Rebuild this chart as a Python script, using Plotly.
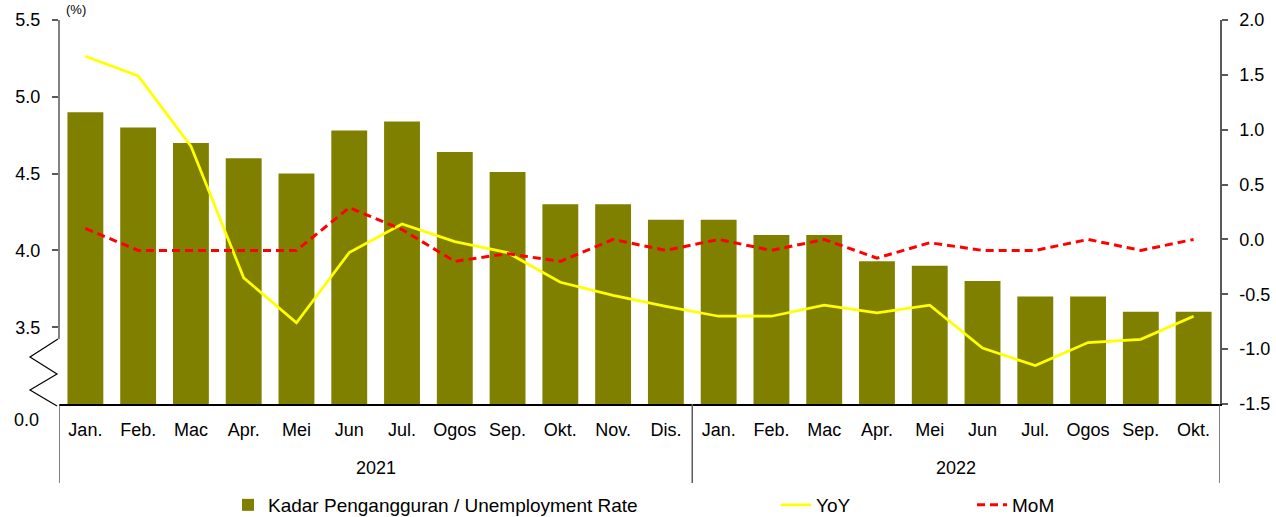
import plotly.graph_objects as go

# data
months = ['Jan.', 'Feb.', 'Mac', 'Apr.', 'Mei', 'Jun', 'Jul.', 'Ogos', 'Sep.', 'Okt.', 'Nov.', 'Dis.',
          'Jan.', 'Feb.', 'Mac', 'Apr.', 'Mei', 'Jun', 'Jul.', 'Ogos', 'Sep.', 'Okt.']
years = ['2021', '2022']
year_len = [12, 10]

unemployment = [4.9, 4.8, 4.7, 4.6, 4.5, 4.78, 4.84, 4.64, 4.51, 4.3, 4.3, 4.2,
                4.2, 4.1, 4.1, 3.93, 3.9, 3.8, 3.7, 3.7, 3.6, 3.6]
yoy = [1.67, 1.49, 0.85, -0.35, -0.76, -0.12, 0.14, -0.02, -0.12, -0.39, -0.51, -0.61,
       -0.70, -0.70, -0.60, -0.67, -0.60, -0.99, -1.15, -0.94, -0.91, -0.70]
mom = [0.10, -0.10, -0.10, -0.10, -0.10, 0.29, 0.09, -0.20, -0.13, -0.20, 0.0, -0.10,
       0.0, -0.10, 0.0, -0.17, -0.03, -0.10, -0.10, 0.0, -0.10, 0.0]

left_ticks = [3.5, 4.0, 4.5, 5.0, 5.5]
right_ticks = [-1.5, -1.0, -0.5, 0.0, 0.5, 1.0, 1.5, 2.0]
right_labels = ['-1.5', '-1.0', '-0.5', '0.0', '0.5', '1.0', '1.5', '2.0']

W, H = 1276, 517
L, R, T, B = 59, 56, 20, 113
FONT = 'Liberation Sans, Arial, sans-serif'
AXIS_GREY = '#595959'

def px(x):
    return (x - L) / (W - L - R)

def py(y):
    return (H - B - y) / (H - T - B)

x = list(range(len(months)))

fig = go.Figure()
fig.add_trace(go.Bar(
    x=x, y=unemployment,
    marker=dict(color='#808000', line=dict(width=0)),
    width=0.68,
    name='Kadar Pengangguran / Unemployment Rate',
    legend='legend', showlegend=True
))
fig.add_trace(go.Scatter(
    x=x, y=yoy, yaxis='y2', mode='lines',
    line=dict(color='#FFFF00', width=2.75),
    name='YoY', legend='legend2', showlegend=True
))
fig.add_trace(go.Scatter(
    x=x, y=mom, yaxis='y2', mode='lines',
    line=dict(color='#FF0000', width=3, dash='8px,5px'),
    name='MoM', legend='legend3', showlegend=True
))

shapes = []
# left axis line, stopping at the break
shapes.append(dict(type='line', xref='paper', yref='paper', x0=0, x1=0, y0=1, y1=py(339),
                   line=dict(color=AXIS_GREY, width=1.5)))
# zigzag axis break
pts = [(58, 339), (30, 357), (57, 374), (30, 390), (57, 406)]
path = 'M ' + ' L '.join(f'{px(a):.5f},{py(b):.5f}' for a, b in pts)
shapes.append(dict(type='path', xref='paper', yref='paper', path=path,
                   line=dict(color='black', width=1.2)))
# category group separators
edges = [-0.5]
for n in year_len:
    edges.append(edges[-1] + n)
for e in edges:
    shapes.append(dict(type='line', xref='x', yref='paper', x0=e, x1=e, y0=0, y1=py(483),
                       line=dict(color=AXIS_GREY, width=1.5)))

annotations = []
start = 0
for yr, n in zip(years, year_len):
    annotations.append(dict(x=start + (n - 1) / 2, y=py(468), xref='x', yref='paper',
                            text=yr, showarrow=False, font=dict(size=18, color='black'),
                            yanchor='middle'))
    start += n
annotations.append(dict(x=px(41), y=py(420), xref='paper', yref='paper', text='0.0',
                        showarrow=False, xanchor='right', yanchor='middle',
                        font=dict(size=18, color='black')))
annotations.append(dict(x=px(64), y=py(9), xref='paper', yref='paper', text='(%)',
                        showarrow=False, xanchor='left', yanchor='middle',
                        font=dict(size=13, color='black')))

leg = dict(orientation='h', yanchor='middle', y=py(505), xanchor='left',
           bgcolor='rgba(0,0,0,0)', font=dict(size=19, color='black', family=FONT))

fig.update_layout(
    width=W, height=H,
    margin=dict(l=L, r=R, t=T, b=B, autoexpand=False),
    paper_bgcolor='white', plot_bgcolor='white',
    font=dict(family=FONT, size=18, color='black'),
    showlegend=True,
    shapes=shapes,
    annotations=annotations,
    legend=dict(leg, x=px(228)),
    legend2=dict(leg, x=px(776)),
    legend3=dict(leg, x=px(972)),
    xaxis=dict(
        range=[-0.5, len(months) - 0.5],
        tickmode='array', tickvals=x, ticktext=months,
        showline=True, linecolor='black', linewidth=1.5,
        ticks='outside', ticklen=9, tickcolor='rgba(0,0,0,0)',
        showgrid=False, zeroline=False,
        tickfont=dict(size=18),
    ),
    yaxis=dict(
        range=[3.0, 5.5],
        tickvals=left_ticks, tickformat='.1f',
        ticks='outside', ticklen=6, tickcolor=AXIS_GREY, tickwidth=1.5,
        ticklabelstandoff=8,
        showline=False, showgrid=False, zeroline=False,
        tickfont=dict(size=18),
    ),
    yaxis2=dict(
        range=[-1.5, 2.0],
        tickmode='array', tickvals=right_ticks, ticktext=right_labels,
        overlaying='y', side='right',
        ticks='outside', ticklen=6, tickcolor=AXIS_GREY, tickwidth=1.5,
        ticklabelstandoff=8,
        showline=True, linecolor=AXIS_GREY, linewidth=1.5,
        showgrid=False, zeroline=False,
        tickfont=dict(size=18),
    ),
)

# the page body has a default 8px margin; drop it so the figure sits at the top-left corner
fig.write_html('out.html', config={'displayModeBar': False},
               post_script="document.body.style.margin='0';")
